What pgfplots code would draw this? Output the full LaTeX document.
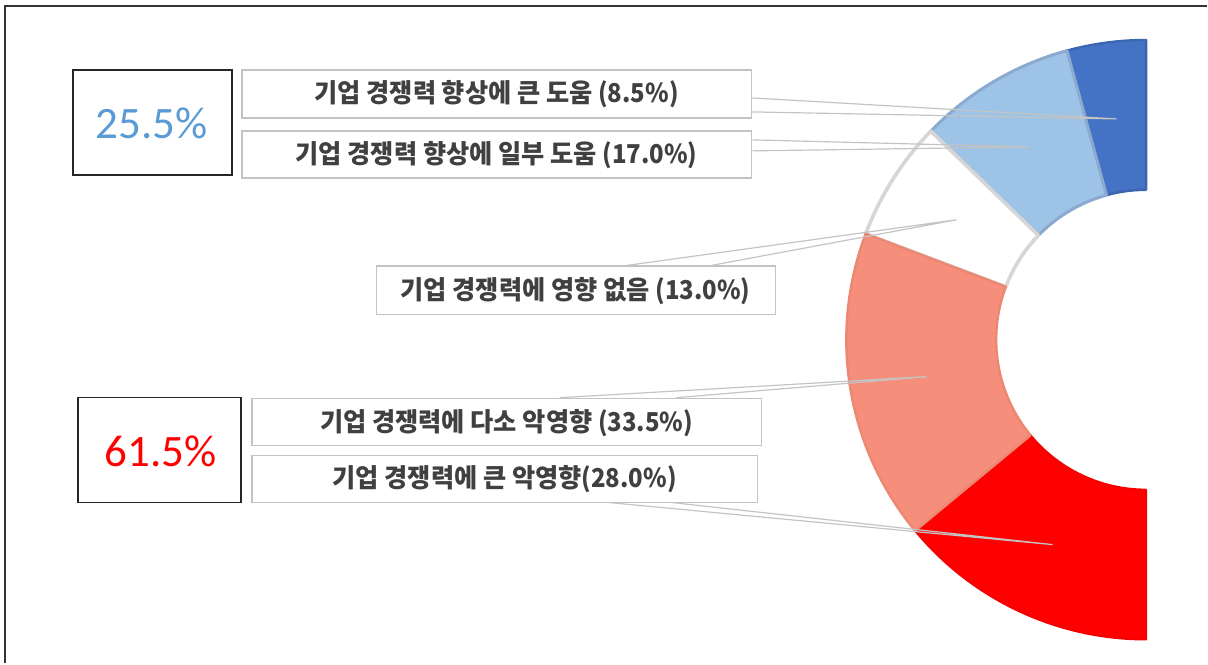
\documentclass[border=0pt]{standalone}
\usepackage{pgfplots}
\pgfplotsset{compat=1.18}
\usepackage{graphicx}
\usepackage{fontspec}
\setmainfont{Carlito}
\newfontfamily\kr{Noto Sans CJK KR}
\definecolor{dblue}{HTML}{4472C4}
\definecolor{dblueB}{HTML}{3D66B0}
\definecolor{lblue}{HTML}{9DC3E6}
\definecolor{lblueB}{HTML}{8BAACF}
\definecolor{wseg}{HTML}{FFFFFF}
\definecolor{wsegB}{HTML}{D6D6D6}
\definecolor{salmon}{HTML}{F68E7C}
\definecolor{salmonB}{HTML}{EC8773}
\definecolor{redseg}{HTML}{FF0000}
\definecolor{redsegB}{HTML}{F50000}
\definecolor{txtgray}{HTML}{404040}
\definecolor{boxgray}{HTML}{C3C3C3}
\definecolor{pctblue}{HTML}{5B9BD5}
\definecolor{leader}{HTML}{C4C4C4}
\newcommand\seg[5]{%
  \filldraw[fill=#3, draw=#4, line width=#5, line join=round]
    (axis cs:{1147+300*cos(#1)},{340-300*sin(#1)})
    arc[start angle=#1, end angle=#2, radius=150pt]
    -- (axis cs:{1147+150*cos(#2)},{340-150*sin(#2)})
    arc[start angle=#2, end angle=#1, radius=75pt] -- cycle;}
\newcommand\lab[3]{\node[font=\kr\bfseries\fontsize{13}{15}\selectfont, text=txtgray, inner sep=0pt] at (axis cs:#1) {\scalebox{0.97}[1]{#2\scalebox{0.95}[1]{#3}}};}
\begin{document}
\begin{tikzpicture}
% shares (percent), going counter-clockwise from the top
\pgfmathsetmacro\aA{90}
\pgfmathsetmacro\aB{\aA+1.8*8.5}
\pgfmathsetmacro\aC{\aB+1.8*17.0}
\pgfmathsetmacro\aD{\aC+1.8*13.0}
\pgfmathsetmacro\aE{\aD+1.8*33.5}
\pgfmathsetmacro\aF{\aE+1.8*28.0}
\begin{axis}[scale only axis, width=604pt, height=332pt,
  xmin=0, xmax=1208, ymin=0, ymax=664, y dir=reverse,
  hide axis, clip=false]
\path (axis cs:0,0) rectangle (axis cs:1208,664);
% frame
\draw[line width=1pt, color=black!80] (axis cs:5.5,664) -- (axis cs:5.5,6.5) -- (axis cs:1208,6.5);
% donut segments
\seg{\aA}{\aB}{dblue}{dblueB}{1.2pt}
\seg{\aB}{\aC}{lblue}{lblueB}{1.5pt}
\seg{\aC}{\aD}{wseg}{wsegB}{1.8pt}
\seg{\aE}{\aF}{redseg}{redsegB}{1pt}
\seg{\aD}{\aE}{salmon}{salmonB}{1.2pt}
% leader lines
\draw[leader, line width=0.6pt, line join=round] (axis cs:753,98) -- (axis cs:1117,119) -- (axis cs:753,112);
\draw[leader, line width=0.6pt, line join=round] (axis cs:753,140) -- (axis cs:1030,147) -- (axis cs:753,151);
\draw[leader, line width=0.6pt, line join=round] (axis cs:625,266) -- (axis cs:957,220) -- (axis cs:710,266);
\draw[leader, line width=0.6pt, line join=round] (axis cs:560,398) -- (axis cs:927,377) -- (axis cs:677,398);
\draw[leader, line width=0.6pt, line join=round] (axis cs:610,503) -- (axis cs:1053,545) -- (axis cs:673,503);
% label boxes
\draw[boxgray, line width=0.75pt, fill=white] (axis cs:242,70) rectangle (axis cs:752,118);
\draw[boxgray, line width=0.75pt, fill=white] (axis cs:242,131) rectangle (axis cs:752,178);
\draw[boxgray, line width=0.75pt, fill=white] (axis cs:377,266) rectangle (axis cs:776,315);
\draw[boxgray, line width=0.75pt, fill=white] (axis cs:252,399) rectangle (axis cs:762,446);
\draw[boxgray, line width=0.75pt, fill=white] (axis cs:252,456) rectangle (axis cs:758,503);
\lab{497,94}{기업 경쟁력 향상에 큰 도움 }{(8.5\%)}
\lab{497,155}{기업 경쟁력 향상에 일부 도움 }{(17.0\%)}
\lab{576,291}{기업 경쟁력에 영향 없음 }{(13.0\%)}
\lab{507,423}{기업 경쟁력에 다소 악영향 }{(33.5\%)}
\lab{505,480}{기업 경쟁력에 큰 악영향}{(28.0\%)}
% percentage boxes
\draw[black!85, line width=0.8pt] (axis cs:73,70) rectangle (axis cs:232,175);
\draw[black!85, line width=0.8pt] (axis cs:78,398) rectangle (axis cs:241,503);
\node[font=\fontsize{22.5}{26}\selectfont, text=pctblue] at (axis cs:152,123) {25.5\%};
\node[font=\fontsize{22.5}{26}\selectfont, text=redseg] at (axis cs:161,452) {61.5\%};
\end{axis}
\end{tikzpicture}
\end{document}
